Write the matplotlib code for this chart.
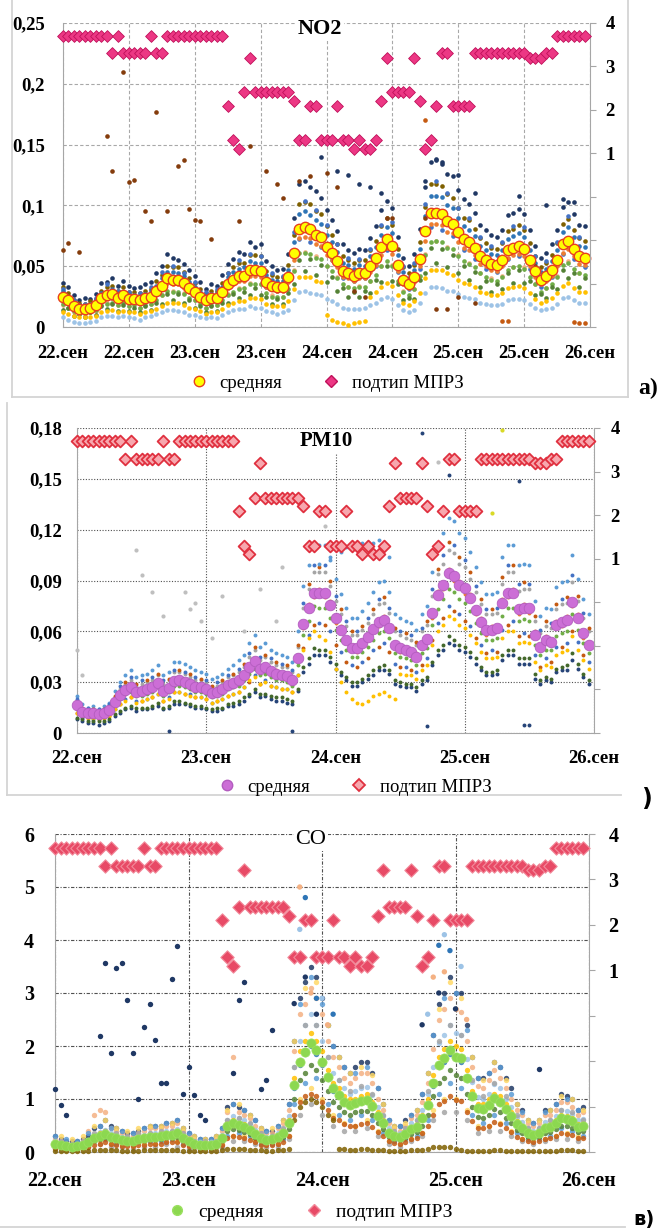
import numpy as np
import matplotlib
matplotlib.use("Agg")
import matplotlib.pyplot as plt
from matplotlib.lines import Line2D

plt.rcParams["font.family"] = ["Liberation Serif", "DejaVu Serif"]

W, H = 658, 1232
hours = np.arange(96)

# подтип МПРЗ, same hourly series on the right axis of all three panels
mprz = [3.7, 3.7, 3.7, 3.7, 3.7, 3.7, 3.7, 3.7, 3.7, 3.3, 3.7, 3.3,
        3.3, 3.3, 3.3, 3.3, 3.7, 3.3, 3.3, 3.7, 3.7, 3.7, 3.7, 3.7,
        3.7, 3.7, 3.7, 3.7, 3.7, 3.7, 2.1, 1.3, 1.1, 2.4, 3.2, 2.4,
        2.4, 2.4, 2.4, 2.4, 2.4, 2.4, 2.2, 1.3, 1.3, 2.1, 2.1, 1.3,
        1.3, 1.3, 2.1, 1.3, 1.3, 1.1, 1.3, 1.1, 1.1, 1.3, 2.2, 3.2,
        2.4, 2.4, 2.4, 2.4, 3.2, 2.2, 1.1, 1.3, 2.1, 3.3, 3.3, 2.1,
        2.1, 2.1, 2.1, 3.3, 3.3, 3.3, 3.3, 3.3, 3.3, 3.3, 3.3, 3.3,
        3.3, 3.2, 3.2, 3.2, 3.3, 3.3, 3.7, 3.7, 3.7, 3.7, 3.7, 3.7]

# ---------------- NO2, ug/m3 ----------------
no2_mean = [25, 22, 17, 15, 15, 16, 18, 24, 26, 27, 24, 26,
            23, 23, 22, 24, 25, 30, 34, 40, 39, 39, 36, 32,
            29, 25, 22, 24, 24, 29, 35, 39, 42, 42, 47, 47,
            46, 37, 34, 33, 33, 41, 61, 81, 82, 81, 76, 74,
            66, 61, 54, 46, 44, 42, 44, 44, 50, 57, 66, 72,
            67, 51, 39, 35, 41, 56, 79, 94, 94, 93, 87, 85,
            78, 72, 70, 65, 58, 55, 52, 51, 55, 63, 65, 67,
            64, 55, 46, 39, 42, 47, 55, 68, 71, 64, 58, 57]
no2_navy = [36, 33, 26, 22, 24, 23, 27, 36, 37, 40, 34, 38,
            34, 32, 33, 35, 37, 44, 50, 60, 57, 55, 52, 47,
            42, 37, 31, 35, 34, 43, 52, 56, 62, 60, 70, 66,
            68, 54, 50, 47, 48, 60, 90, 118, 120, 115, 112, 106,
            96, 88, 79, 68, 63, 61, 64, 63, 73, 83, 96, 104,
            98, 74, 57, 50, 60, 81, 115, 136, 138, 134, 126, 124,
            113, 105, 101, 94, 84, 80, 76, 74, 80, 92, 94, 97,
            93, 80, 67, 57, 61, 68, 80, 99, 103, 93, 84, 83]
no2_blue = [30, 24, 20, 18, 16, 19, 21, 28, 29, 31, 28, 29,
            27, 26, 25, 27, 30, 34, 40, 45, 45, 44, 42, 37,
            33, 29, 26, 27, 28, 33, 41, 45, 48, 49, 54, 53,
            53, 43, 39, 38, 38, 47, 70, 93, 95, 92, 88, 85,
            76, 70, 62, 53, 51, 48, 51, 50, 58, 66, 76, 82,
            77, 59, 45, 40, 47, 64, 91, 108, 108, 107, 100, 98,
            90, 83, 80, 75, 67, 63, 60, 59, 63, 72, 75, 77,
            74, 63, 53, 45, 48, 54, 63, 78, 82, 74, 67, 66]
no2_lblue = [8, 6, 4, 3, 3, 4, 5, 8, 9, 9, 8, 9,
             8, 7, 6, 8, 9, 11, 12, 14, 14, 13, 12, 10,
             10, 8, 7, 8, 7, 10, 12, 14, 15, 15, 17, 16,
             16, 13, 12, 11, 12, 14, 22, 29, 30, 28, 27, 26,
             23, 21, 19, 16, 15, 15, 15, 16, 18, 20, 23, 25,
             23, 18, 14, 12, 14, 20, 28, 33, 33, 32, 30, 30,
             27, 25, 24, 23, 20, 19, 18, 18, 19, 22, 23, 23,
             22, 19, 16, 14, 15, 16, 19, 24, 25, 22, 20, 20]
no2_green = [19, 16, 13, 11, 12, 12, 14, 18, 19, 20, 18, 20,
             17, 18, 16, 18, 19, 22, 26, 30, 29, 29, 27, 24,
             22, 19, 16, 18, 18, 22, 26, 29, 31, 32, 35, 35,
             35, 28, 25, 25, 25, 31, 46, 61, 61, 60, 57, 56,
             50, 46, 40, 35, 33, 32, 33, 33, 38, 43, 50, 54,
             50, 38, 29, 26, 31, 42, 59, 70, 71, 70, 65, 64,
             58, 54, 52, 49, 44, 41, 39, 38, 41, 47, 49, 50,
             48, 41, 35, 29, 32, 35, 41, 51, 53, 48, 44, 43]
no2_grey = [26, 23, 18, 16, 14, 17, 19, 25, 27, 28, 25, 27,
            24, 22, 23, 25, 26, 31, 35, 41, 40, 40, 37, 33,
            30, 26, 23, 25, 25, 30, 36, 40, 43, 43, 48, 48,
            47, 38, 35, 34, 34, 42, 63, 83, 84, 83, 78, 76,
            68, 63, 55, 47, 45, 43, 45, 45, 51, 58, 68, 74,
            69, 52, 40, 36, 42, 58, 81, 96, 96, 95, 89, 87,
            80, 74, 72, 67, 60, 57, 54, 53, 57, 65, 67, 69,
            66, 57, 47, 40, 43, 48, 57, 70, 73, 66, 60, 59]
no2_orange = [22, 20, 15, 14, 14, 15, 16, 21, 23, 24, 21, 23,
              21, 21, 20, 22, 23, 27, 31, 36, 35, 35, 32, 29,
              26, 23, 20, 22, 22, 26, 32, 35, 38, 38, 42, 42,
              41, 33, 31, 30, 30, 37, 55, 73, 74, 73, 68, 67,
              59, 55, 49, 41, 40, 38, 40, 40, 45, 51, 59, 65,
              60, 46, 35, 32, 37, 50, 71, 85, 85, 84, 78, 77,
              70, 65, 63, 59, 52, 50, 47, 46, 50, 57, 59, 60,
              58, 50, 41, 35, 38, 42, 50, 61, 64, 58, 52, 51]
no2_olive = [33, 28, 22, 20, 19, 21, 23, 30, 33, 34, 30, 33,
             29, 29, 28, 30, 31, 38, 43, 50, 49, 49, 45, 40,
             36, 31, 28, 30, 30, 36, 44, 49, 53, 53, 59, 59,
             58, 46, 43, 41, 41, 51, 76, 101, 103, 101, 95, 93,
             83, 76, 68, 58, 55, 53, 55, 55, 63, 71, 83, 90,
             84, 64, 49, 44, 51, 70, 99, 118, 118, 116, 109, 106,
             98, 90, 88, 81, 73, 69, 65, 64, 69, 79, 81, 84,
             80, 69, 58, 49, 53, 59, 69, 85, 89, 80, 73, 71]
no2_yellow = [12, 11, 9, 8, 8, 8, 9, 12, 13, 14, 12, 13,
              12, 12, 11, 12, 13, 15, 17, 20, 20, 20, 18, 16,
              15, 13, 11, 12, 12, 15, 18, 20, 21, 21, 24, 24,
              23, 19, 17, 17, 17, 21, 31, 41, 41, 41, 38, 37,
              10, 6, 4, 3, 2, 3, 4, 5, 25, 29, 33, 36,
              34, 26, 20, 18, 21, 28, 40, 47, 47, 47, 44, 43,
              39, 36, 35, 33, 29, 28, 26, 26, 28, 32, 33, 34,
              32, 28, 23, 20, 21, 24, 28, 34, 36, 32, 29, 29]
no2_steel = [31, 20, 22, 14, 19, 13, 24, 27, 35, 24, 30, 22,
             29, 20, 28, 22, 33, 29, 45, 38, 50, 36, 44, 31,
             37, 22, 29, 21, 31, 27, 44, 36, 55, 40, 60, 44,
             58, 33, 44, 30, 42, 38, 78, 72, 104, 70, 96, 66,
             84, 55, 68, 40, 57, 38, 56, 40, 64, 50, 84, 63,
             86, 45, 50, 31, 53, 48, 101, 82, 120, 80, 110, 75,
             98, 63, 90, 56, 74, 48, 67, 45, 70, 56, 83, 58,
             82, 48, 58, 33, 54, 41, 70, 60, 91, 56, 74, 49]
no2_peach = [18, 23, 12, 16, 10, 17, 13, 22, 20, 28, 18, 25,
             17, 24, 16, 25, 19, 29, 26, 41, 30, 40, 28, 33,
             22, 26, 16, 25, 18, 30, 27, 40, 32, 43, 36, 48,
             35, 38, 26, 34, 25, 42, 47, 83, 62, 83, 58, 76,
             50, 62, 41, 47, 33, 43, 34, 45, 38, 58, 50, 74,
             51, 52, 30, 36, 31, 57, 60, 96, 71, 95, 66, 87,
             59, 74, 53, 67, 44, 56, 40, 52, 42, 64, 49, 69,
             49, 56, 35, 40, 32, 48, 42, 70, 54, 65, 44, 58]
no2_dgreen = [14, 16, 9, 11, 8, 12, 10, 17, 15, 19, 13, 18,
              13, 16, 12, 17, 14, 20, 19, 27, 22, 27, 20, 22,
              16, 17, 12, 17, 13, 20, 20, 27, 24, 29, 26, 32,
              26, 25, 19, 23, 19, 28, 35, 55, 46, 56, 43, 51,
              37, 41, 30, 32, 25, 29, 25, 30, 28, 39, 37, 50,
              38, 35, 22, 24, 23, 39, 44, 65, 53, 64, 49, 59,
              44, 50, 39, 45, 33, 38, 29, 35, 31, 44, 36, 47,
              36, 38, 26, 27, 24, 33, 31, 47, 40, 44, 33, 40]
no2_brown_h = [0, 1, 3, 8, 9, 11, 12, 13, 15, 16, 17, 19, 21, 22, 23, 24, 25, 27, 32,
               34, 37, 39, 40, 43, 45, 48, 50, 53, 55, 59, 60, 66, 68, 70, 72, 75, 86]
no2_brown_v = [63, 69, 62, 157, 128, 210, 119, 121, 95, 87, 177, 95, 132, 137, 97, 88, 87, 72, 87,
               149, 128, 118, 106, 120, 124, 127, 115, 30, 25, 90, 90, 90, 15, 15, 25, 20, 50]
no2_high_h = [47, 50, 52, 54, 56, 58, 66, 68, 69, 72, 75, 83, 88, 91, 93]
no2_high_v = [140, 128, 125, 118, 115, 110, 120, 137, 136, 125, 110, 108, 100, 105, 103]
no2_rust_h = [66, 80, 81, 93, 94, 95]
no2_rust_v = [170, 5, 5, 4, 3, 3]

# ---------------- PM10, ug/m3 ----------------
pm_mean = [16.5, 12.6, 11.6, 12, 11, 11.6, 13.6, 18.5, 22.4, 25.4, 27.3, 24.4,
           25, 25.7, 27.3, 29.7, 25, 26.7, 30.9, 31, 30.3, 29, 27.3, 27,
           25.7, 23.4, 24.4, 25.7, 28.5, 29.7, 31.5, 34.2, 39, 42.7, 37.6, 39,
           36.6, 35, 34.2, 33.6, 31, 44, 64.3, 73.6, 82.8, 82.4, 82.4, 75.5,
           67.7, 60.8, 54.9, 50, 50, 53, 56.8, 61.2, 65.7, 66.7, 61.8, 51.9,
           50, 49, 48, 45, 51.9, 55.3, 70.6, 81.4, 87.3, 94.2, 92.4, 87.3,
           85.4, 79.5, 72.6, 65.7, 60.8, 60.8, 61.8, 76.9, 82.4, 82.4, 73, 74,
           73.5, 57.8, 50.9, 54.9, 54, 63.7, 65.7, 66.7, 77.5, 67.7, 58.8, 51.9]
pm_lblue = [22, 17, 15, 16, 14, 16, 18, 25, 30, 34, 37, 33,
            34, 35, 37, 40, 34, 36, 42, 42, 41, 39, 37, 36,
            35, 32, 33, 35, 38, 40, 43, 46, 53, 58, 51, 53,
            49, 47, 46, 45, 42, 60, 87, 99, 112, 111, 111, 102,
            91, 82, 74, 68, 68, 72, 77, 83, 89, 90, 83, 70,
            68, 66, 65, 61, 70, 75, 95, 110, 118, 127, 125, 118,
            115, 107, 98, 89, 82, 82, 83, 104, 111, 111, 99, 100,
            99, 78, 69, 74, 73, 86, 89, 90, 105, 91, 79, 70]
pm_navy = [8, 7, 6, 6, 5, 6, 7, 10, 12, 14, 15, 13,
           14, 14, 15, 16, 14, 15, 17, 17, 17, 16, 15, 15,
           14, 13, 13, 14, 16, 16, 17, 19, 22, 24, 21, 22,
           20, 19, 19, 18, 17, 25, 36, 41, 46, 46, 46, 42,
           38, 34, 31, 28, 28, 30, 32, 34, 37, 37, 35, 29,
           28, 27, 27, 25, 29, 31, 40, 46, 49, 53, 52, 49,
           48, 45, 41, 37, 34, 34, 35, 43, 46, 46, 41, 41,
           41, 32, 29, 31, 30, 36, 37, 37, 43, 38, 33, 29]
pm_orange = [15, 14, 11, 13, 10, 12, 14, 17, 23, 24, 28, 26,
             24, 27, 26, 31, 23, 28, 30, 33, 29, 30, 26, 28,
             24, 25, 23, 27, 27, 31, 30, 36, 38, 44, 36, 41,
             35, 37, 32, 35, 29, 46, 62, 76, 80, 85, 80, 78,
             65, 63, 53, 52, 48, 55, 55, 63, 63, 69, 60, 54,
             48, 51, 46, 47, 50, 57, 68, 84, 85, 97, 90, 90,
             82, 82, 70, 68, 58, 63, 60, 79, 80, 85, 70, 76,
             71, 60, 49, 57, 52, 66, 63, 69, 75, 70, 56, 54]
pm_yellow = [12, 10, 9, 9, 8, 9, 10, 14, 17, 19, 21, 18,
             19, 20, 21, 23, 19, 20, 24, 24, 23, 22, 21, 21,
             20, 18, 19, 20, 22, 23, 24, 27, 31, 33, 29, 30,
             28, 27, 26, 26, 24, 34, 49, 56, 60, 57, 55, 48,
             38, 30, 24, 20, 18, 17, 19, 22, 23, 24, 22, 20,
             35, 34, 34, 32, 37, 40, 52, 60, 64, 69, 67, 64,
             62, 58, 53, 48, 44, 44, 45, 56, 60, 60, 53, 54,
             53, 42, 37, 40, 39, 46, 48, 49, 57, 49, 43, 38]
pm_green = [14, 11, 10, 11, 10, 10, 12, 16, 20, 23, 24, 22,
            22, 23, 24, 27, 22, 24, 28, 28, 27, 26, 24, 24,
            23, 21, 22, 23, 26, 27, 28, 31, 35, 38, 34, 35,
            33, 31, 31, 30, 28, 40, 58, 66, 75, 74, 74, 68,
            61, 55, 49, 45, 45, 48, 51, 55, 59, 60, 56, 47,
            45, 44, 43, 40, 47, 50, 64, 73, 79, 85, 83, 79,
            77, 72, 65, 59, 55, 55, 56, 69, 74, 74, 66, 67,
            66, 52, 46, 49, 49, 57, 59, 60, 70, 61, 53, 47]
pm_grey = [19, 14, 13, 14, 13, 13, 16, 21, 26, 29, 31, 28,
           29, 30, 31, 34, 29, 31, 36, 36, 35, 33, 31, 31,
           30, 27, 28, 30, 33, 34, 36, 39, 45, 49, 43, 45,
           42, 40, 39, 39, 36, 51, 74, 85, 95, 95, 95, 87,
           78, 70, 63, 58, 58, 61, 65, 70, 76, 77, 71, 60,
           58, 56, 55, 52, 60, 64, 81, 94, 100, 108, 106, 100,
           98, 91, 83, 76, 70, 70, 71, 88, 95, 95, 84, 85,
           85, 66, 59, 63, 62, 73, 76, 77, 89, 78, 68, 60]
pm_dgreen = [9, 8, 7, 7, 7, 7, 8, 11, 13, 15, 16, 15,
             15, 15, 16, 18, 15, 16, 19, 19, 18, 17, 16, 16,
             15, 14, 15, 15, 17, 18, 19, 21, 23, 26, 23, 23,
             22, 21, 21, 20, 19, 26, 39, 44, 50, 49, 49, 45,
             41, 36, 33, 30, 30, 32, 34, 37, 39, 40, 37, 31,
             30, 29, 29, 27, 31, 33, 42, 49, 52, 57, 55, 52,
             51, 48, 44, 39, 36, 36, 37, 46, 49, 49, 44, 44,
             44, 35, 31, 33, 32, 38, 39, 40, 47, 41, 35, 31]
pm_blue = [20, 9, 15, 8, 14, 9, 17, 14, 28, 20, 33, 19,
           31, 20, 33, 23, 31, 21, 37, 24, 36, 23, 33, 21,
           31, 18, 30, 20, 34, 23, 38, 27, 47, 34, 45, 31,
           44, 27, 41, 26, 37, 34, 77, 58, 99, 65, 99, 60,
           81, 48, 66, 40, 60, 42, 68, 49, 79, 53, 74, 41,
           60, 39, 58, 36, 62, 44, 85, 65, 105, 75, 111, 70,
           102, 63, 87, 52, 73, 49, 74, 61, 99, 66, 88, 59,
           88, 46, 61, 44, 65, 51, 79, 53, 93, 54, 71, 42]
pm_rust = [12, 15, 9, 14, 8, 14, 10, 22, 17, 30, 21, 29,
           19, 31, 21, 35, 19, 32, 24, 37, 23, 35, 21, 32,
           20, 28, 19, 31, 22, 35, 24, 41, 30, 51, 29, 46,
           28, 42, 26, 40, 24, 52, 50, 88, 64, 98, 64, 90,
           52, 73, 42, 60, 39, 63, 44, 73, 51, 80, 48, 62,
           39, 59, 37, 54, 40, 66, 55, 97, 68, 113, 72, 104,
           66, 95, 56, 79, 47, 73, 48, 92, 64, 99, 57, 89,
           57, 69, 39, 66, 42, 76, 51, 80, 60, 81, 46, 62]
pm_pale_h = [0, 1, 11, 12, 14, 16, 20, 21, 22, 23, 25, 27, 31, 34, 37, 38, 46, 67]
pm_pale_v = [49, 34, 108, 93, 83, 69, 83, 73, 77, 66, 56, 81, 60, 85, 66, 98, 122, 160]
pm_dark_h = [17, 40, 64, 65, 69, 82, 83, 84]
pm_dark_v = [1, 1, 177, 4, 152, 149, 5, 5]
pm_arc_h = [45, 47, 49, 50, 51, 52, 53, 54, 55, 56, 57, 58]
pm_arc_v = [100, 104, 107, 110, 111, 110, 112, 113, 112, 114, 110, 104]
pm_gold_h = [77, 79]
pm_gold_v = [130, 179]

# ---------------- CO, mg/m3 ----------------
co_mean = [.16, .13, .11, .10, .11, .13, .18, .26, .30, .34, .29, .26,
           .23, .21, .20, .24, .26, .29, .29, .30, .32, .32, .35, .26,
           .20, .16, .14, .13, .14, .16, .26, .49, .54, .51, .48, .42,
           .34, .26, .23, .24, .29, .35, .54, 1.26, 1.70, 1.89, 2.05, 1.92,
           1.70, 1.42, 1.20, 1.08, .95, .89, .92, .97, .98, .86, .68, .54,
           .36, .30, .28, .34, .43, .48, .64, .89, 1.30, 1.64, 1.77, 1.92,
           1.79, 1.77, 1.39, 1.06, .83, .81, .89, 1.02, .95, .81, .68, .53,
           .45, .36, .32, .36, .45, .48, .54, .64, .62, .58, .48, .49]
co_navy = [.3, .25, .2, .2, .2, .25, .3, .45, .5, .6, .5, .45,
           .4, .35, .35, .4, .45, .5, .5, .5, .55, .55, .6, .45,
           .35, .3, .25, .25, .25, .3, .45, .85, .9, .85, .8, .7,
           .6, .45, .4, .4, .5, .6, .9, 2.1, 2.9, 3.2, 3.5, 3.3,
           2.9, 2.4, 2.0, 1.8, 1.6, 1.5, 1.6, 1.7, 1.7, 1.5, 1.2, .9,
           .6, .5, .5, .6, .7, .8, 1.1, 1.5, 2.2, 2.8, 3.0, 3.3,
           3.0, 3.0, 2.4, 1.8, 1.4, 1.4, 1.5, 1.7, 1.6, 1.4, 1.2, .9,
           .8, .6, .55, .6, .8, .8, .9, 1.1, 1.05, 1.0, .8, .85]
co_lblue = [.2, .16, .14, .12, .14, .16, .22, .32, .38, .42, .36, .32,
            .29, .26, .25, .3, .32, .36, .36, .38, .4, .4, .44, .32,
            .25, .2, .18, .16, .18, .2, .32, .6, .68, .64, .6, .52,
            .42, .32, .29, .3, .36, .44, .68, 1.6, 2.1, 2.4, 2.6, 2.4,
            2.1, 1.8, 1.5, 1.35, 1.2, 1.1, 1.15, 1.2, 1.22, 1.08, .85, .68,
            .45, .38, .35, .42, .54, .6, .8, 1.1, 1.6, 2.05, 2.2, 2.4,
            2.25, 2.2, 1.75, 1.32, 1.04, 1.0, 1.1, 1.28, 1.2, 1.0, .85, .66,
            .56, .45, .4, .45, .56, .6, .68, .8, .78, .72, .6, .62]
co_peach = [.25, .2, .17, .15, .17, .2, .4, .7, .8, .75, .45, .4,
            .35, .3, .3, .35, .4, .45, .45, .45, .5, .5, .55, .4,
            .3, .25, .2, .2, .2, .25, .4, .75, 1.8, .75, .7, .65,
            .5, .4, .35, .35, .45, .55, .8, 1.9, 2.6, 2.8, 3.1, 2.9,
            2.6, 2.1, 1.8, 1.6, 1.4, 1.3, 1.4, 1.5, 1.5, 1.3, 1.0, .8,
            .55, .45, .4, .5, .65, .7, .95, 1.3, 1.95, 2.5, 2.7, 2.9,
            2.7, 2.65, 2.1, 1.6, 1.25, 1.2, 1.35, 1.55, 1.4, 1.2, 1.0, .8,
            .7, .55, .5, .55, .7, .7, .8, .95, .95, .85, .7, .75]
co_gold = [.18, .15, .12, .11, .12, .15, .2, .3, .35, .4, .32, .29,
           .25, .23, .22, .26, .3, .32, .32, .35, .35, .35, .4, .3,
           .22, .18, .15, .14, .15, .18, .3, .55, .6, .55, .52, .46,
           .38, .3, .25, .26, .32, .4, .6, 1.4, 1.9, 2.1, 2.25, 2.1,
           1.9, 1.55, 1.3, 1.2, 1.05, 1.0, 1.0, 1.05, 1.1, .95, .75, .6,
           .4, .33, .3, .38, .48, .53, .7, 1.0, 1.45, 1.8, 1.95, 2.1,
           2.0, 1.95, 1.55, 1.15, .9, .9, 1.0, 1.1, 1.05, .9, .75, .58,
           .5, .4, .35, .4, .5, .53, .6, .7, .68, .64, .53, .54]
co_olive = [.02, .02, .02, .02, .02, .02, .02, .03, .03, .03, .03, .03,
            .02, .02, .02, .02, .03, .03, .03, .03, .03, .03, .03, .02,
            .02, .02, .02, .02, .02, .02, .03, .05, .05, .05, .05, .04,
            .03, .03, .02, .02, .03, .03, .05, .6, .85, .95, 1.0, .95,
            .85, .7, .6, .05, .05, .04, .04, .05, .05, .04, .03, .03,
            .02, .02, .02, .02, .03, .03, .04, .05, .1, .1, .1, .1,
            .05, .03, .02, .02, .02, .02, .02, .03, .03, .02, .02, .02,
            .02, .02, .02, .02, .02, .02, .02, .03, .03, .03, .02, .02]
co_rust = [.08, .07, .06, .05, .06, .07, .1, .14, .16, .18, .16, .14,
           .12, .11, .11, .13, .14, .16, .16, .16, .18, .18, .19, .14,
           .11, .09, .08, .07, .08, .09, .14, .27, .3, .28, .26, .23,
           .19, .14, .13, .13, .16, .19, .3, .7, .95, 1.05, 1.1, 1.05,
           .95, .8, .65, .6, .52, .5, .5, .53, .54, .47, .37, .3,
           .2, .17, .15, .19, .24, .26, .35, .5, .7, .9, .97, 1.05,
           .98, .97, .76, .58, .46, .45, .5, .56, .52, .45, .37, .29,
           .25, .2, .18, .2, .25, .26, .3, .35, .34, .32, .26, .27]
co_green = [.13, .1, .09, .08, .09, .1, .14, .2, .24, .27, .23, .21,
            .18, .17, .16, .19, .21, .23, .23, .24, .26, .26, .28, .21,
            .16, .13, .11, .1, .11, .13, .2, .4, .43, .41, .38, .34,
            .27, .2, .18, .19, .23, .28, .43, 1.0, 1.35, 1.5, 1.65, 1.55,
            1.35, 1.15, .95, .85, .75, .7, .75, .78, .78, .7, .55, .43,
            .29, .24, .22, .27, .34, .38, .5, .7, 1.05, 1.3, 1.4, 1.55,
            1.45, 1.4, 1.1, .85, .66, .65, .7, .82, .76, .65, .55, .42,
            .36, .29, .26, .29, .36, .38, .43, .5, .5, .46, .38, .39]
co_blue = [.15, .12, .1, .1, .1, .12, .17, .25, .28, .33, .28, .25,
           .22, .2, .19, .23, .25, .28, .28, .29, .31, .31, .34, .25,
           .19, .15, .13, .12, .13, .15, .25, .47, .52, .49, .46, .4,
           .33, .25, .22, .23, .28, .34, .52, 1.2, 1.65, 1.85, 2.0, 1.85,
           1.65, 1.38, 1.15, 1.05, .92, .86, .9, .94, .95, .83, .66, .52,
           .35, .29, .27, .33, .42, .46, .62, .86, 1.25, 1.6, 1.7, 1.85,
           1.75, 1.7, 1.35, 1.03, .8, .78, .86, .99, .92, .78, .66, .51,
           .44, .35, .31, .35, .44, .46, .52, .62, .6, .56, .46, .47]
co_sky = [.3, .1, .25, .05, .2, .1, .35, .2, .5, .25, .45, .15,
          .4, .15, .35, .2, .45, .2, .5, .2, .55, .25, .6, .15,
          .35, .1, .25, .1, .25, .1, .45, .3, .9, .35, .8, .3,
          .6, .15, .4, .15, .5, .25, .9, .9, 2.8, 1.3, 3.3, 1.4,
          2.8, .9, 2.0, .7, 1.6, .6, 1.5, .7, 1.6, .6, 1.2, .35,
          .6, .2, .5, .25, .7, .3, 1.1, .6, 2.2, 1.1, 2.9, 1.3,
          3.0, 1.2, 2.3, .7, 1.4, .55, 1.5, .7, 1.6, .55, 1.1, .35,
          .75, .25, .55, .25, .75, .3, .9, .45, 1.0, .4, .8, .3]
co_sand = [.1, .3, .05, .25, .05, .3, .1, .5, .2, .6, .15, .45,
           .15, .4, .1, .45, .15, .5, .15, .5, .2, .55, .2, .45,
           .1, .3, .05, .25, .1, .3, .15, .8, .3, .9, .3, .7,
           .2, .45, .1, .45, .15, .6, .3, 2.1, 1.0, 3.1, 1.2, 3.2,
           1.0, 2.4, .7, 1.8, .55, 1.5, .5, 1.6, .6, 1.45, .4, .9,
           .2, .5, .15, .55, .25, .8, .35, 1.5, .8, 2.7, 1.0, 3.2,
           1.0, 2.9, .8, 1.8, .5, 1.35, .5, 1.7, .55, 1.35, .4, .9,
           .25, .6, .2, .6, .25, .8, .3, 1.05, .35, 1.0, .3, .8]
co_grey = [.05, .2, .1, .15, .05, .2, .1, .35, .15, .4, .1, .35,
           .1, .3, .05, .35, .1, .35, .1, .4, .15, .4, .1, .35,
           .05, .2, .05, .2, .05, .2, .1, .6, .2, .65, .2, .55,
           .15, .35, .1, .3, .1, .45, .25, 1.6, .7, 2.4, .9, 2.4,
           .7, 1.8, .5, 1.35, .4, 1.15, .4, 1.25, .45, 1.1, .3, .7,
           .15, .4, .1, .45, .2, .6, .3, 1.15, .6, 2.1, .75, 2.4,
           .75, 2.2, .6, 1.35, .35, 1.05, .4, 1.3, .4, 1.05, .3, .7,
           .2, .45, .15, .45, .2, .6, .25, .8, .25, .75, .2, .6]
co_spike_h = [0, 1, 2, 8, 9, 10, 11, 12, 13, 14, 15, 16, 17, 18, 19,
              20, 21, 22, 23, 24, 25, 26, 27, 32, 33, 34, 37, 38, 39, 87]
co_spike_v = [1.19, 0.89, 0.7, 2.19, 3.57, 1.87, 3.47, 3.57, 2.87, 1.87, 1.0, 2.36, 2.8, 2.11, 1.3,
              1.3, 3.27, 3.89, 1.1, 1.6, 1.08, 0.7, 0.6, 1.5, 2.87, 3.2, 1.19, 1.36, 2.3, 1.57]
co_peak_h = [43, 44, 44, 45, 45, 46, 46, 47, 47, 48, 49, 50,
             66, 67, 68, 69, 69, 70, 70, 71, 72, 73, 74]
co_peak_v = [2.8, 4.2, 5.0, 4.8, 3.3, 4.4, 3.0, 2.9, 2.6, 2.9, 2.4, 2.6,
             2.4, 2.6, 3.3, 3.9, 3.0, 4.1, 3.4, 3.8, 2.7, 3.5, 2.5]

legend_labels = ["средняя", "подтип МПРЗ"]

fig = plt.figure(figsize=(W / 100, H / 100), dpi=100)


def fx(x):
    return x / W


def fy(y):
    return 1 - y / H


def frame_line(x0, y0, x1, y1):
    fig.add_artist(Line2D([fx(x0), fx(x1)], [fy(y0), fy(y1)], transform=fig.transFigure,
                          color="#D4D4D4", lw=1.3))


def make_panel(l, t, r, b, ylim, yticks, ylabels, xticks, xlabels, gls, gcol,
               lpad, xpad, rpad, fsize):
    ax = fig.add_axes([fx(l), fy(b), fx(r - l), (b - t) / H])
    ax.set_xlim(0, 96)
    ax.set_ylim(*ylim)
    ax.set_xticks(xticks)
    ax.set_xticklabels(xlabels, fontweight="bold", fontsize=fsize)
    ax.set_yticks(yticks)
    ax.set_yticklabels(ylabels, fontweight="bold", fontsize=fsize)
    ax.tick_params(axis="x", length=0, pad=xpad)
    ax.tick_params(axis="y", length=0, pad=lpad)
    ax.grid(True, color=gcol, linestyle=gls, linewidth=0.8)
    ax.set_axisbelow(True)
    for s in ["left", "bottom"]:
        ax.spines[s].set_color("#A6A6A6")
    ax.spines["top"].set_visible(False)
    ax.spines["right"].set_visible(False)

    ax2 = ax.twinx()
    ax2.set_ylim(-3, 4)
    ax2.set_yticks(range(-3, 5))
    ax2.set_yticklabels(["", "", "", "", "1", "2", "3", "4"], fontweight="bold", fontsize=fsize)
    ax2.tick_params(axis="y", length=4, color="#A6A6A6", pad=rpad)
    for s in ["left", "bottom", "top"]:
        ax2.spines[s].set_visible(False)
    ax2.spines["right"].set_color("#A6A6A6")
    return ax, ax2


def dots(ax, x, v, color, size, alpha=1.0):
    ax.scatter(x, v, s=size, color=color, linewidths=0, alpha=alpha, zorder=3, clip_on=False)


# ================= a) NO2 =================
x12 = [0, 12, 24, 36, 48, 60, 72, 84, 96]
x12_labels = ["22.сен", "22.сен", "23.сен", "23.сен", "24.сен", "24.сен", "25.сен", "25.сен", "26.сен"]
axa, axa2 = make_panel(63, 23, 590, 327, (0, 0.25), [0, 0.05, 0.1, 0.15, 0.2, 0.25],
                       ["0", "0,05", "0,1", "0,15", "0,2", "0,25"], x12, x12_labels,
                       (0, (3, 2)), "#A8A8A8", 13, 13, 7, 13.5)
no2_stations = [(no2_navy, "#203864"), (no2_olive, "#7F6000"), (no2_steel, "#4472C4"),
                (no2_blue, "#2E75B6"), (no2_grey, "#A5A5A5"), (no2_orange, "#ED7D31"),
                (no2_peach, "#F4B183"), (no2_green, "#70AD47"), (no2_dgreen, "#548235"),
                (no2_yellow, "#FFC000"), (no2_lblue, "#9DC3E6")]
for vals, col in no2_stations:
    dots(axa, hours, np.array(vals) / 1000, col, 11)
dots(axa, no2_brown_h, np.array(no2_brown_v) / 1000, "#843C0C", 11)
dots(axa, no2_high_h, np.array(no2_high_v) / 1000, "#203864", 11)
dots(axa, no2_rust_h, np.array(no2_rust_v) / 1000, "#C55A11", 11)
axa.scatter(hours, np.array(no2_mean) / 1000, s=56, color="#FFFF00", edgecolors="#E8401C",
            linewidths=1.0, zorder=5, clip_on=False)
axa2.scatter(hours, mprz, marker="D", s=36, color="#EC3784", edgecolors="#C0105A",
             linewidths=0.6, zorder=6, clip_on=False)
fig.text(fx(320), fy(29), "NO2", ha="center", va="center", fontsize=16, fontweight="bold",
         bbox=dict(fc="white", ec="none", pad=1.5))
fig.legend([Line2D([], [], ls="", marker="o", markersize=7.5, markerfacecolor="#FFFF00",
                   markeredgecolor="#E8401C"),
            Line2D([], [], ls="", marker="D", markersize=6, markerfacecolor="#EC3784",
                   markeredgecolor="#C0105A")],
           legend_labels, loc="center", bbox_to_anchor=(fx(322), fy(383)), ncol=2,
           frameon=False, fontsize=13.5, handletextpad=0.1, columnspacing=1.6)
frame_line(12, 0, 12, 397)
frame_line(12, 397, 628, 397)
frame_line(628, 0, 628, 397)
fig.text(fx(648), fy(388), "а)", ha="center", va="center", fontsize=17, fontweight="bold")

# ================= b) PM10 =================
x24 = [0, 24, 48, 72, 96]
x24_labels = ["22.сен", "23.сен", "24.сен", "25.сен", "26.сен"]
axb, axb2 = make_panel(77, 428, 594, 733, (0, 0.18), [0, 0.03, 0.06, 0.09, 0.12, 0.15, 0.18],
                       ["0", "0,03", "0,06", "0,09", "0,12", "0,15", "0,18"], x24, x24_labels,
                       (0, (1, 1.5)), "#505050", 11, 12, 8, 13.5)
pm_stations = [(pm_lblue, "#5B9BD5"), (pm_grey, "#A5A5A5"), (pm_blue, "#4472C4"),
               (pm_orange, "#ED7D31"), (pm_rust, "#C55A11"), (pm_green, "#70AD47"),
               (pm_navy, "#264478"), (pm_yellow, "#FFC000"), (pm_dgreen, "#43682B")]
for vals, col in pm_stations:
    dots(axb, hours, np.array(vals) / 1000, col, 8)
dots(axb, pm_pale_h, np.array(pm_pale_v) / 1000, "#BFBFBF", 9)
dots(axb, pm_dark_h, np.array(pm_dark_v) / 1000, "#264478", 8)
dots(axb, pm_arc_h, np.array(pm_arc_v) / 1000, "#5B9BD5", 8)
dots(axb, pm_gold_h, np.array(pm_gold_v) / 1000, "#D9D926", 9)
axb.scatter(hours, np.array(pm_mean) / 1000, s=58, color="#CC6ED6", edgecolors="#B35CBF",
            linewidths=0.6, zorder=5, clip_on=False)
axb2.scatter(hours, mprz, marker="D", s=36, color="#F7A7AE", edgecolors="#E0303F",
             linewidths=1.3, zorder=6, clip_on=False)
fig.text(fx(326), fy(441), "PM10", ha="center", va="center", fontsize=15, fontweight="bold",
         bbox=dict(fc="white", ec="none", pad=1.5))
fig.legend([Line2D([], [], ls="", marker="o", markersize=7.5, markerfacecolor="#CC6ED6",
                   markeredgecolor="#B35CBF"),
            Line2D([], [], ls="", marker="D", markersize=6, markerfacecolor="#F7A7AE",
                   markeredgecolor="#E0303F", markeredgewidth=1.3)],
           legend_labels, loc="center", bbox_to_anchor=(fx(350), fy(787)), ncol=2,
           frameon=False, fontsize=13.5, handletextpad=0.1, columnspacing=1.6)
frame_line(7, 403, 7, 795)
frame_line(7, 795, 621, 795)
fig.text(fx(646), fy(799), ")", ha="center", va="center", fontsize=17, fontweight="bold",
         family="DejaVu Sans")

# ================= в) CO =================
axc, axc2 = make_panel(55, 834, 589, 1152, (0, 6), [0, 1, 2, 3, 4, 5, 6],
                       ["0", "1", "2", "3", "4", "5", "6"], x24, x24_labels,
                       (0, (3, 1.5, 1, 1.5)), "#505050", 15, 14, 10, 14.5)
co_stations = [(co_navy, "#1F3864"), (co_peach, "#F4B183"), (co_sky, "#5B9BD5"),
               (co_lblue, "#9DC3E6"), (co_sand, "#FFD966"), (co_gold, "#FFC000"),
               (co_grey, "#A5A5A5"), (co_blue, "#2E75B6"), (co_green, "#548235"),
               (co_rust, "#C55A11"), (co_olive, "#7F6000")]
for vals, col in co_stations:
    dots(axc, hours, vals, col, 15, 0.85)
dots(axc, co_spike_h, co_spike_v, "#1F3864", 15)
peak_cols = ["#1F3864", "#9DC3E6", "#F4B183", "#2E75B6"]
dots(axc, co_peak_h, co_peak_v, [peak_cols[i % 4] for i in range(len(co_peak_h))], 15)
axc.scatter(hours, co_mean, s=44, color="#8CD850", edgecolors="#9BE060",
            linewidths=0.5, zorder=5, clip_on=False)
axc2.scatter(hours, mprz, marker="D", s=46, color="#E84A66", edgecolors="#F28A9A",
             linewidths=0.8, zorder=6, clip_on=False)
fig.text(fx(311), fy(839), "CO", ha="center", va="center", fontsize=16,
         bbox=dict(fc="white", ec="none", pad=1.5))
fig.legend([Line2D([], [], ls="", marker="o", markersize=7, markerfacecolor="#8CD850",
                   markeredgecolor="#9BE060"),
            Line2D([], [], ls="", marker="D", markersize=6.5, markerfacecolor="#E84A66",
                   markeredgecolor="#F28A9A")],
           legend_labels, loc="center", bbox_to_anchor=(fx(305), fy(1212)), ncol=2,
           frameon=False, fontsize=14, handletextpad=0.1, columnspacing=1.6)
frame_line(0, 1227, 625, 1227)
fig.text(fx(644), fy(1220), "в)", ha="center", va="center", fontsize=14, fontweight="bold",
         family="DejaVu Sans")

fig.savefig("out.png", dpi=100)
